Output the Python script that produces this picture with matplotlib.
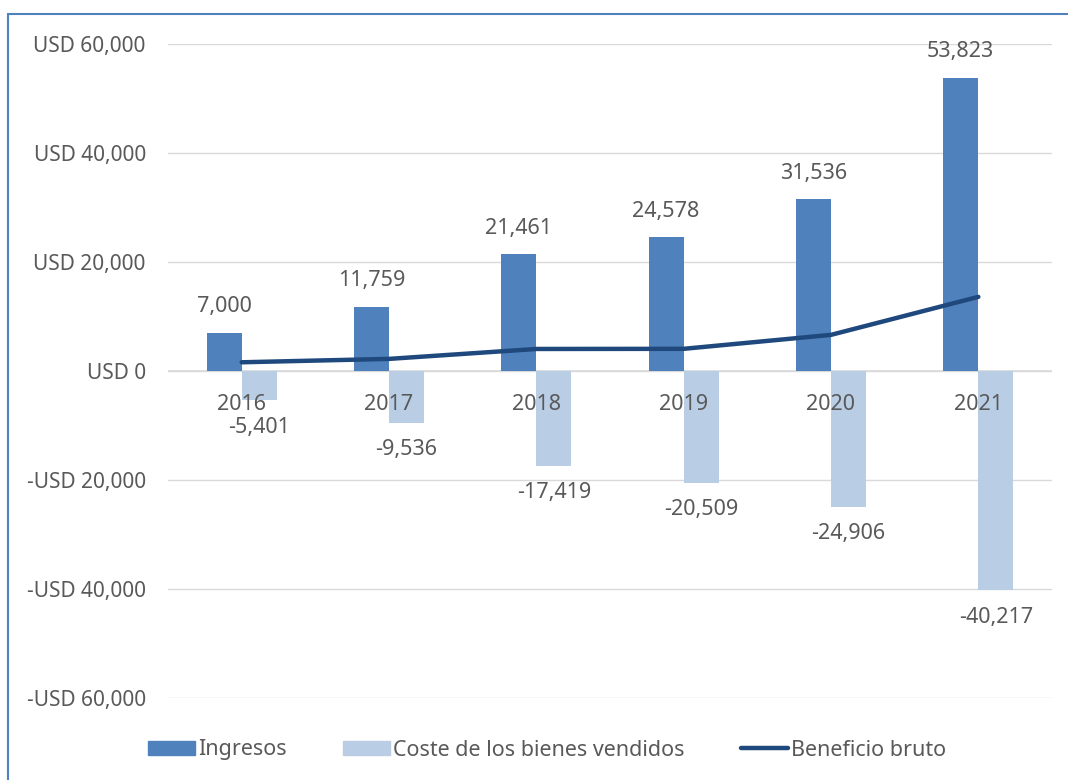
import matplotlib
matplotlib.use('Agg')
import matplotlib.pyplot as plt
from matplotlib.patches import Rectangle
from matplotlib.lines import Line2D
import numpy as np

years = ['2016', '2017', '2018', '2019', '2020', '2021']
ingresos = [7000, 11759, 21461, 24578, 31536, 53823]
coste = [-5401, -9536, -17419, -20509, -24906, -40217]
beneficio = [i + c for i, c in zip(ingresos, coste)]

C_ING = '#4F81BD'
C_COS = '#B9CDE5'
C_BEN = '#1F497D'
C_TXT = '#595959'
FS = 15.5

plt.rcParams['font.family'] = ['Noto Sans', 'DejaVu Sans']

fig = plt.figure(figsize=(10.68, 7.80), dpi=100)
ax = fig.add_axes([168 / 1068, 1 - 698 / 780, 884 / 1068, 654 / 780])

# outer chart frame (right and bottom edges run off the image)
fig.patches.append(Rectangle((8 / 1068, -0.1), 1.2, 1.1 - 14 / 780,
                             transform=fig.transFigure, fill=False,
                             edgecolor='#4F81BD', lw=1.5, clip_on=False))

x = np.arange(len(years))
w = 0.238
ax.bar(x - w / 2, ingresos, w, color=C_ING, zorder=2)
ax.bar(x + w / 2, coste, w, color=C_COS, zorder=2)
ax.plot(x, beneficio, color=C_BEN, lw=3.2, solid_capstyle='round',
        solid_joinstyle='round', zorder=3)

for xi, v in zip(x, ingresos):
    ax.annotate(f'{v:,}', (xi - w / 2, v), xytext=(0, 26), textcoords='offset pixels',
                ha='center', va='center', fontsize=FS, color=C_TXT)
for xi, v in zip(x, coste):
    ax.annotate(f'{v:,}', (xi + w / 2, v), xytext=(0, -27), textcoords='offset pixels',
                ha='center', va='center', fontsize=FS, color=C_TXT)

# category labels sit just under the zero line
for xi, yr in zip(x, years):
    ax.annotate(yr, (xi, 0), xytext=(0, -33), textcoords='offset pixels',
                ha='center', va='center', fontsize=FS, color=C_TXT)

yticks = np.arange(-60000, 60001, 20000)
ax.set_xlim(-0.5, len(years) - 0.5)
ax.set_ylim(-60000, 60000)
ax.set_yticks(yticks)
ax.set_yticklabels([('-' if t < 0 else '') + f'USD {abs(t):,}' for t in yticks])
ax.yaxis.grid(True, color='#D9D9D9', lw=1)
ax.set_axisbelow(True)
ax.axhline(0, color='#D9D9D9', lw=1.2, zorder=1)
ax.tick_params(axis='y', length=0, pad=16, labelsize=15, labelcolor=C_TXT)
ax.set_xticks([])
for s in ax.spines.values():
    s.set_visible(False)

handles = [Rectangle((0, 0), 1, 1, color=C_ING),
           Rectangle((0, 0), 1, 1, color=C_COS),
           Line2D([0], [0], color=C_BEN, lw=3.2, solid_capstyle='round')]
fig.legend(handles, ['Ingresos', 'Coste de los bienes vendidos', 'Beneficio bruto'],
           loc='center', bbox_to_anchor=(547 / 1068, 1 - 750 / 780), ncol=3,
           frameon=False, fontsize=FS, labelcolor=C_TXT, handlelength=2.2,
           handleheight=0.6, handletextpad=0.15, columnspacing=2.6)

fig.savefig('out.png', dpi=100, facecolor='white')
